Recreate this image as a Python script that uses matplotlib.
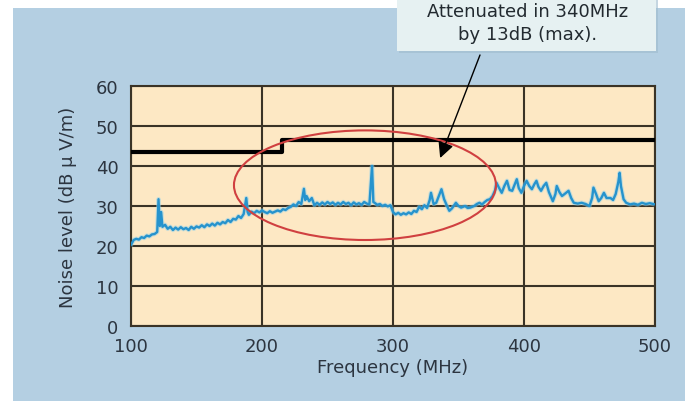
import matplotlib
matplotlib.use("Agg")
import matplotlib.pyplot as plt
from matplotlib.patches import Rectangle, Ellipse

plt.rcParams['font.family'] = ['DejaVu Sans']

# ---- data ----
noise_freq = [100, 102, 104, 106, 108, 110, 112, 114, 116, 118, 120, 121, 122, 123, 124, 126, 128,
              130, 132, 134, 136, 138, 140, 142, 144, 146, 148, 150, 152, 154, 156, 158, 160,
              162, 164, 166, 168, 170, 172, 174, 176, 178, 180, 182, 184, 186, 188, 189, 190,
              192, 194, 196, 198, 200, 202, 204, 206, 208, 210, 212, 214, 216, 218, 220, 222,
              224, 226, 228, 230, 232, 233, 234, 236, 238, 240, 242, 244, 246, 248, 250, 252,
              254, 256, 258, 260, 262, 264, 266, 268, 270, 272, 274, 276, 278, 280, 282, 284,
              285, 286, 288, 290, 292, 294, 296, 298, 300, 302, 304, 306, 308, 310, 312, 314,
              316, 318, 320, 322, 324, 326, 328, 329, 331, 333, 335, 337, 339, 341, 343, 345,
              348, 350, 352, 355, 357, 359, 362, 364, 366, 368, 370, 372, 374, 376, 378, 379,
              381, 383, 385, 387, 389, 391, 393, 394.5, 396, 398, 400, 402, 404, 406, 408, 409.5,
              411, 413, 415, 417, 419, 422, 424, 425, 427, 429, 431, 434, 436, 438, 441, 444,
              447, 450, 452, 453, 455, 457, 459, 461, 463, 466, 468, 470, 472, 473, 474, 476,
              478, 481, 484, 487, 490, 493, 496, 500]
noise_level = [20.3, 21.5, 21.8, 21.6, 22.2, 22.0, 22.6, 22.4, 22.9, 23.0, 23.5, 31.7, 25.0, 28.5, 24.8, 25.3, 24.3,
               24.8, 24.0, 24.6, 24.1, 24.7, 24.2, 24.5, 24.0, 24.8, 24.3, 24.9, 24.6, 25.2, 24.7, 25.4, 25.0,
               25.6, 25.1, 25.8, 25.4, 26.0, 25.7, 26.5, 26.0, 26.8, 26.6, 27.5, 27.0, 28.0, 32.0, 28.5, 27.8,
               28.6, 28.2, 28.8, 28.4, 28.9, 28.5, 28.2, 28.7, 28.3, 28.6, 28.9, 28.6, 29.2, 29.0, 29.5, 29.8,
               30.4, 30.0, 31.0, 30.5, 34.3, 31.5, 32.5, 31.2, 32.0, 30.2, 30.8, 30.3, 30.9, 30.4, 31.0, 30.5,
               30.9, 30.3, 30.8, 30.4, 31.0, 30.5, 30.8, 30.2, 30.9, 30.4, 30.7, 30.3, 31.0, 30.6, 30.4, 40.0,
               31.0, 30.8, 30.3, 30.5, 30.0, 30.3, 29.9, 30.2, 28.5, 27.9, 28.3, 27.8, 28.2, 27.9, 28.4, 28.0,
               28.8, 28.5, 29.8, 29.2, 30.2, 29.5, 31.5, 33.3, 30.5, 30.8, 32.5, 34.2, 31.7, 30.2, 28.8, 29.4,
               30.8, 30.0, 29.6, 30.0, 29.5, 29.6, 30.0, 30.5, 30.8, 30.4, 31.0, 31.5, 31.7, 32.5, 34.0, 35.8,
               34.5, 33.3, 35.0, 36.3, 34.0, 33.8, 35.5, 36.7, 34.5, 33.3, 35.0, 36.3, 35.0, 34.2, 35.5, 36.3,
               34.8, 33.8, 35.0, 35.8, 33.5, 31.2, 33.0, 35.0, 33.5, 32.5, 33.0, 33.8, 32.0, 30.8, 30.6, 30.8,
               30.5, 30.0, 32.0, 34.6, 33.0, 31.2, 32.0, 33.3, 32.0, 32.0, 31.5, 33.0, 36.0, 38.3, 35.0, 31.7,
               30.8, 30.4, 30.6, 30.3, 30.8, 30.5, 30.7, 30.4]

limit_freq = [100, 215, 500]
limit_level = [43.5, 46.5, 46.5]

x_ticks = [100, 200, 300, 400, 500]
y_ticks = [0, 10, 20, 30, 40, 50, 60]

note_lines = ["Attenuated in 340MHz", "by 13dB (max)."]
arrow_tip = (336, 42)

# ---- figure ----
fig = plt.figure(figsize=(6.88, 4.02), dpi=100, facecolor='white')
fig.patches.append(Rectangle((13 / 688, 0), 672 / 688, 1 - 9 / 402, transform=fig.transFigure,
                             facecolor='#b4cfe2', edgecolor='none', zorder=-5))

ax = fig.add_axes([131 / 688, 1 - 327 / 402, 524 / 688, 240 / 402])
ax.set_zorder(1)
ax.set_facecolor('#fde8c4')
ax.set_xlim(100, 500)
ax.set_ylim(0, 60)
ax.set_xticks(x_ticks)
ax.set_yticks(y_ticks)
txtc = '#2c3540'
ax.tick_params(length=0, labelsize=13, colors=txtc)
ax.tick_params(axis='y', pad=9)
ax.tick_params(axis='x', pad=8)
ax.grid(True, color='#3a3326', lw=1.5, zorder=1)
ax.set_axisbelow(True)
for s in ax.spines.values():
    s.set_color('#3a3326')
    s.set_linewidth(1.5)

ax.plot(noise_freq, noise_level, color='#8fd0ea', lw=3.2, alpha=0.5, zorder=2.5)
ax.plot(noise_freq, noise_level, color='#2693cd', lw=1.7, zorder=3)
ax.step(limit_freq, limit_level, where='post', color='black', lw=3, zorder=4)

ax.add_patch(Ellipse((278.6, 35.2), 200, 27.4, facecolor='none', edgecolor='#d04040', lw=1.5, zorder=5))

ax.set_xlabel('Frequency (MHz)', fontsize=13, color=txtc)
ax.set_ylabel('Noise level (dB \u03bc V/m)', fontsize=13, color=txtc)
ax.xaxis.set_label_coords(0.5, -0.172)
ax.yaxis.set_label_coords(-0.12, 0.5)
ax.xaxis.label.set_va('center')
ax.yaxis.label.set_va('center')

# annotation box
fig.patches.append(Rectangle((399 / 688, 1 - 54 / 402), 259 / 688, 54 / 402, transform=fig.transFigure,
                             facecolor='#9fbccd', edgecolor='none', zorder=2, alpha=0.6))
fig.patches.append(Rectangle((397 / 688, 1 - 52 / 402), 259 / 688, 52 / 402, transform=fig.transFigure,
                             facecolor='#e6f1f2', edgecolor='none', zorder=3))
fig.text(528 / 688, 1 - 12 / 402, note_lines[0], ha='center', va='center', fontsize=13, color='#222a30', zorder=4)
fig.text(528 / 688, 1 - 35 / 402, note_lines[1], ha='center', va='center', fontsize=13, color='#222a30', zorder=4)

ax.annotate('', xy=arrow_tip, xycoords='data', xytext=(480 / 688, 1 - 56 / 402), textcoords='figure fraction',
            arrowprops=dict(arrowstyle='-|>', mutation_scale=24, lw=1.0, color='black', shrinkA=0, shrinkB=0),
            annotation_clip=False, zorder=6)

fig.savefig('out.png', dpi=100, facecolor='white')
